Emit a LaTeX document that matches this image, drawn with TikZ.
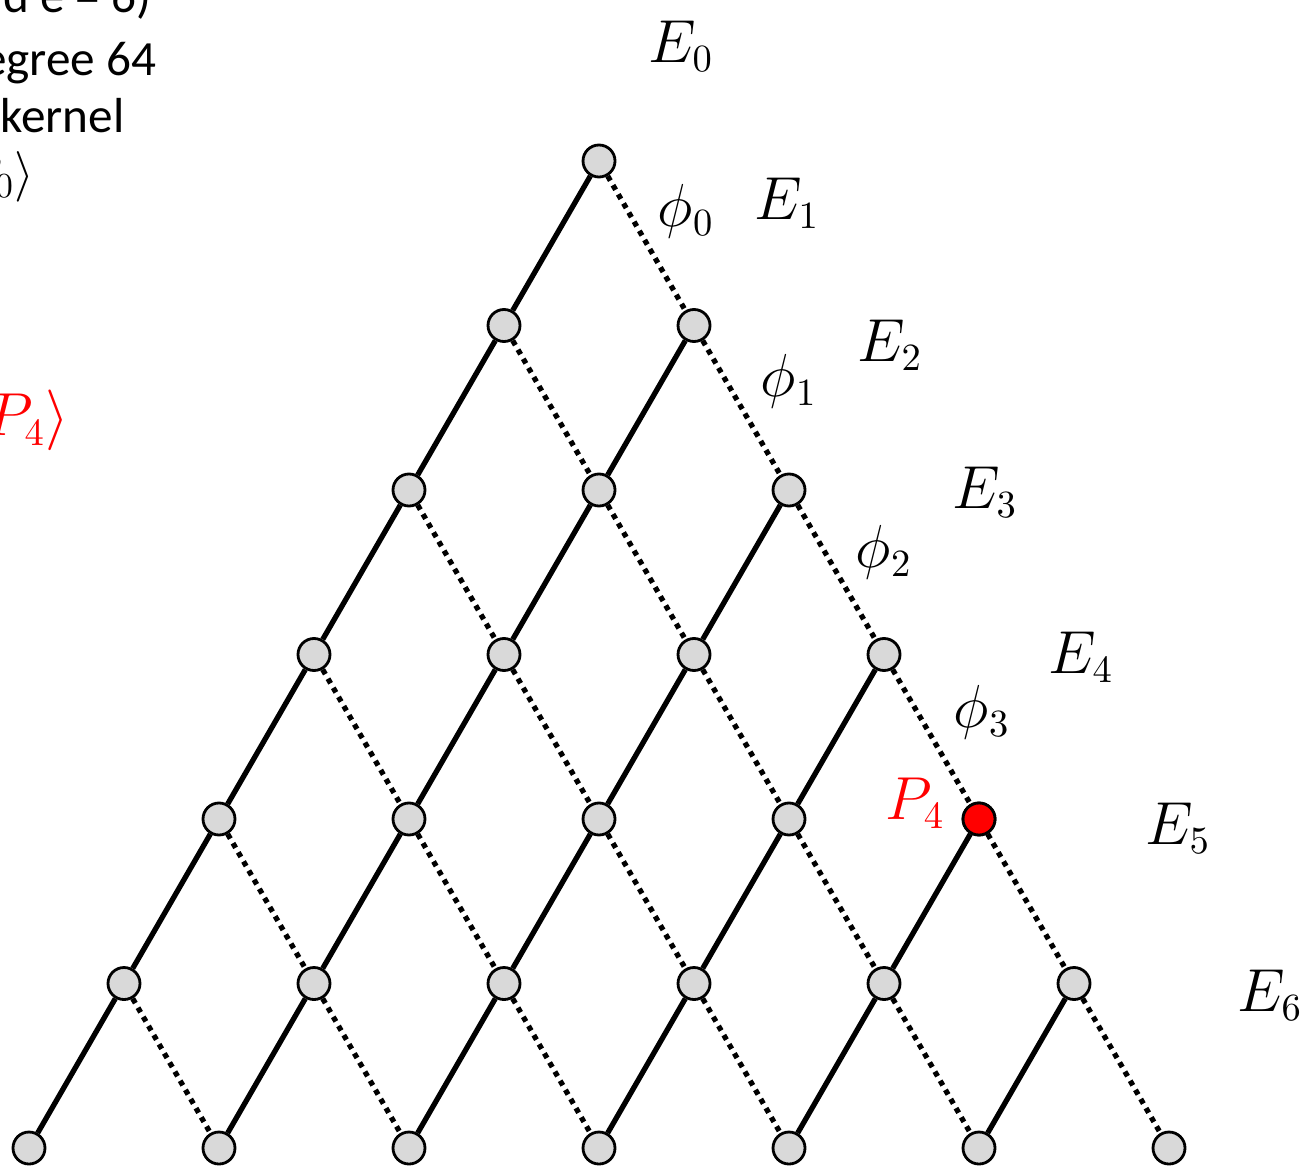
\documentclass[tikz,border=0pt]{standalone}
\usepackage{fontspec}
\newfontfamily\notefont{Carlito}
\usetikzlibrary{positioning, backgrounds}
\definecolor{nodegray}{RGB}{217,217,217}
\definecolor{hilite}{RGB}{255,0,0}

\begin{document}
\begin{tikzpicture}[
  vertex/.style={circle,draw=black,fill=nodegray,line width=0.8pt,minimum size=0.32cm,inner sep=0pt},
  marked/.style={vertex,fill=hilite},
  solidedge/.style={line width=1.5pt},
  dotedge/.style={line width=1.5pt,dash pattern=on 1.5pt off 1.5pt},
  lbl/.style={font=\fontsize{16}{19}\selectfont,inner sep=0pt},
  note/.style={font=\notefont\fontsize{14}{17}\selectfont,inner sep=0pt,anchor=base east}
]
  \useasboundingbox (0,0) rectangle (13,-11.67);
  \clip (0,0) rectangle (13,-11.67);

  % lattice vertices
  \foreach \r in {0,...,6}
    \foreach \k in {0,...,\r}
      \node[vertex] (v\r\k) at ({5.99+(2*\k-\r)*0.95},{-1.61-1.645*\r}) {};
  \node[marked] (p4) at (v44) {};

  % edges
  \begin{scope}[on background layer]
    \foreach \r in {0,...,5}
      \foreach \k in {0,...,\r} {
        \pgfmathtruncatemacro\rn{\r+1}
        \pgfmathtruncatemacro\kn{\k+1}
        \draw[solidedge] (v\r\k) -- (v\rn\k);
        \draw[dotedge] (v\r\k) -- (v\rn\kn);
      }
  \end{scope}

  % labels
  \node[lbl] (e0) at (6.81,-0.46) {$E_0$};
  \foreach \i/\x/\y in {1/7.87/2.03, 2/8.90/3.45, 3/9.85/4.92, 4/10.81/6.57, 5/11.78/8.28, 6/12.70/9.95}
    \node[lbl] (e\i) at (\x,-\y) {$E_{\i}$};
  \foreach \i/\x/\y in {0/6.86/2.11, 1/7.89/3.81, 2/8.84/5.52, 3/9.82/7.12}
    \node[lbl] (phi\i) at (\x,-\y) {$\phi_{\i}$};
  \node[lbl, text=hilite, left=0.16cm of p4, yshift=0.16cm] (p4lbl) {$P_4$};

  % side notes
  \node[note] (note1) at (1.52,-0.13) {($\ell = 2$ and e = 6)};
  \node[note] (note2) at (1.57,-0.76) {isogeny of degree 64};
  \node[note] (note3) at (1.25,-1.33) {with kernel};
  \node[note] (note4) at (0.35,-1.90) {$\langle P_0\rangle$};
  \node[note, text=hilite, font=\notefont\fontsize{16}{19}\selectfont] (note5) at (0.70,-4.36) {$\langle P_4\rangle$};
\end{tikzpicture}
\end{document}
